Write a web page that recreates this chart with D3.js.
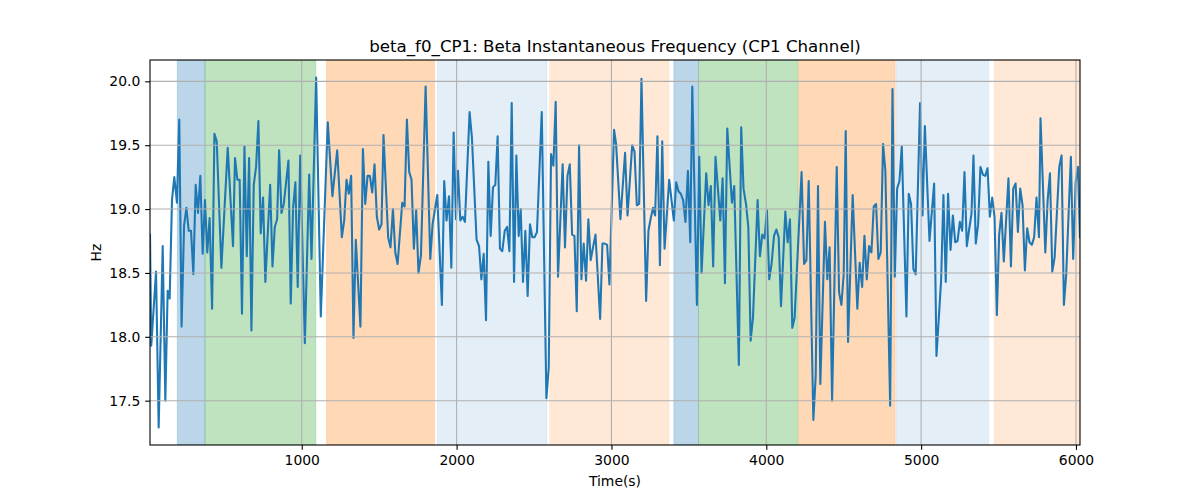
<!DOCTYPE html>
<html>
<head>
<meta charset="utf-8">
<script src="https://cdn.jsdelivr.net/npm/d3@7"></script>
<style>
  html, body { margin: 0; padding: 0; background: #fff; }
  svg text { font-family: "DejaVu Sans", sans-serif; fill: #000; }
</style>
</head>
<body>
<svg id="chart" width="1200" height="500"></svg>
<script>
// ---- data ----
const titleText = "beta_f0_CP1: Beta Instantaneous Frequency (CP1 Channel)";
const xLabelText = "Time(s)";
const yLabelText = "Hz";

const times = [
  20,28,59,76,102,119,134,147,162,177,194,209,224,240,255,270,285,300,315,330,
  345,360,375,390,405,421,436,451,481,522,556,569,584,599,614,630,645,660,675,690,
  705,720,735,750,765,796,811,826,841,854,869,884,914,929,944,959,974,990,1020,
  1048,1063,1093,1123,1168,1198,1229,1259,1274,1289,1304,1319,1334,1349,1379,1395,1410,1425,1440,1455,
  1470,1485,1500,1515,1528,1558,1573,1589,1604,1619,1649,1664,1679,1694,1709,1724,1739,1754,1770,1800,
  1830,1845,1875,1905,1920,1935,1951,1966,1981,1996,2009,
  2024,2039,2054,2084,2099,2129,2145,2160,2175,2190,2205,2220,2235,2250,2265,2280,2295,2311,2326,2341,
  2356,2371,2386,2401,2414,2429,2444,2459,2474,2489,2504,2519,2550,2580,2595,2610,2625,2640,2655,2685,
  2700,2716,2731,2746,2761,2776,2791,2806,2821,2836,2851,2866,2881,2897,2927,2942,2957,2972,2987,3017,
  3030,3058,3088,3104,3134,3149,3164,3179,3194,3224,3239,3254,3269,3282,3297,3313,3328,3343,3373,3403,
  3418,3433,3448,3463,3478,3494,3509,3522,3552,3567,3582,3612,3627,3642,3657,3672,3703,3718,3733,3748,
  3778,3793,3823,3838,3853,3869,3884,3899,3914,3944,3959,3974,3989,4004,4019,
  4034,4050,4065,4080,4095,4123,4138,4153,4168,4183,4228,4244,4259,4274,4304,4319,4334,4349,4379,4394,
  4409,4425,4455,4470,4485,4500,4513,4528,4558,4588,4603,4619,4634,4649,4664,4679,4694,4709,4724,4739,
  4754,4769,4800,4815,4830,4845,4860,4875,4905,4920,4935,4950,4965,4993,5009,5024,
  5054,5084,5099,5129,5144,5159,5174,5190,5205,5220,5235,5250,5265,5280,5295,5310,5325,5338,5353,5368,
  5383,5399,5414,5429,5444,5459,5474,5489,5504,5519,5534,5564,5580,5595,5610,5625,5640,5655,5670,5685,
  5700,5715,5730,5745,5761,5771,5802,5817,5832,5847,5862,5892,5907,5922,5937,5967,5982,5998,6013,6026
];

const hz = [
  18.80,17.93,18.51,17.29,18.71,17.50,18.36,18.30,19.07,19.25,19.05,19.70,18.08,18.87,19.01,18.83,18.83,18.49,19.19,18.97,
  19.26,18.65,19.07,18.66,18.93,18.22,19.59,19.53,18.54,19.48,18.71,19.40,19.23,19.23,18.18,19.49,18.63,19.40,18.05,19.19,
  19.33,19.69,18.81,19.09,18.43,19.19,18.55,18.86,18.92,19.46,18.97,19.04,19.38,18.26,19.01,19.21,18.39,19.42,17.95,
  19.27,18.61,20.03,18.16,19.68,19.10,19.46,18.78,18.91,19.23,19.12,19.26,17.99,18.76,18.08,19.47,19.04,19.26,19.26,19.13,
  19.35,18.94,18.84,18.88,19.58,18.78,18.70,19.00,18.66,18.57,19.05,19.02,19.70,19.29,19.23,18.69,18.99,18.50,18.64,19.96,
  18.61,18.88,19.11,18.25,19.22,18.91,19.10,18.54,19.60,18.92,19.30,
  18.91,18.94,18.90,19.76,19.56,18.76,18.71,18.45,18.65,18.13,19.37,18.79,19.17,19.19,19.57,18.69,18.67,18.83,18.86,18.67,
  19.83,18.43,19.42,18.79,19.00,18.43,18.83,18.32,18.88,18.78,18.78,18.82,19.76,17.52,17.76,19.43,19.34,19.84,18.47,19.35,
  18.70,19.26,19.35,18.80,18.79,18.20,19.50,18.45,18.73,18.44,18.92,18.60,18.70,18.80,18.14,18.73,18.73,18.72,18.41,19.62,
  19.51,18.92,19.44,18.95,19.50,19.45,19.03,19.04,20.02,18.28,18.83,18.93,19.01,18.95,19.57,18.56,19.53,18.69,19.23,18.91,
  19.21,19.14,19.12,19.07,18.90,19.30,18.74,19.96,18.25,19.41,18.50,19.28,19.03,19.18,18.55,19.41,18.91,19.24,18.42,19.63,
  19.05,19.18,17.78,19.64,19.16,19.04,18.86,17.97,18.15,19.07,18.63,18.80,18.77,18.99,18.45,
  18.57,18.79,18.84,18.78,18.24,18.98,18.74,18.92,18.07,18.15,19.29,18.57,18.60,19.22,17.35,17.69,19.18,17.63,18.90,18.45,
  18.70,17.50,19.33,18.35,18.25,18.49,19.61,17.96,19.11,18.22,18.58,18.39,18.79,18.45,18.71,18.66,19.02,19.04,18.61,18.66,
  19.51,19.30,17.46,19.94,18.47,19.16,19.22,19.49,18.16,19.12,19.04,18.53,18.49,19.83,18.95,19.65,
  18.75,19.20,17.85,18.44,19.11,18.43,19.12,18.68,18.95,18.74,18.75,18.90,18.83,19.29,18.71,18.84,18.96,19.42,18.73,18.88,
  19.33,19.27,19.26,19.32,18.94,19.09,18.94,18.17,18.80,18.97,18.59,19.24,18.55,19.16,19.20,18.82,19.16,19.03,18.52,18.85,
  18.74,18.72,18.78,19.09,18.78,19.71,18.66,19.07,19.28,18.51,18.62,19.33,19.42,18.25,18.49,19.41,18.61,19.21,19.33,18.78
];

// shaded phases
const spanStarts = [196, 375, 1160, 1875, 2601, 3403, 3562, 4209, 4838, 5472];
const spanEnds   = [375, 1091, 1858, 2584, 3371, 3562, 4205, 4832, 5437, 6030];
const spanKinds  = ["A", "B", "C", "D", "E", "A", "B", "C", "D", "E"];

const xTickValues = [1000, 2000, 3000, 4000, 5000, 6000];
const yTickValues = [17.5, 18.0, 18.5, 19.0, 19.5, 20.0];

// ---- styles ----
const kindStyle = {
  A: { color: "#1f77b4", opacity: 0.30 },
  B: { color: "#2ca02c", opacity: 0.30 },
  C: { color: "#ff7f0e", opacity: 0.30 },
  D: { color: "#1f77b4", opacity: 0.12 },
  E: { color: "#ff7f0e", opacity: 0.17 }
};

const W = 1200, H = 500;
const m = { left: 150, right: 1080, top: 60, bottom: 445 };

const svg = d3.select("#chart");

const data = times.map((t, i) => ({ t, v: hz[i] }));
const [tMin, tMax] = d3.extent(times);
const [vMin, vMax] = d3.extent(hz);
const vPad = (vMax - vMin) * 0.05;

const x = d3.scaleLinear().domain([tMin, tMax]).range([m.left, m.right]);
const y = d3.scaleLinear().domain([vMin - vPad, vMax + vPad]).range([m.bottom, m.top]);

svg.append("defs").append("clipPath").attr("id", "clip")
  .append("rect").attr("x", m.left).attr("y", m.top)
  .attr("width", m.right - m.left).attr("height", m.bottom - m.top);

const plot = svg.append("g").attr("clip-path", "url(#clip)");

// spans
const spans = spanStarts.map((s, i) => ({ s, e: spanEnds[i], k: spanKinds[i] }));
plot.selectAll("rect.span").data(spans).enter().append("rect")
  .attr("class", "span")
  .attr("x", d => x(d.s))
  .attr("width", d => x(d.e) - x(d.s))
  .attr("y", m.top)
  .attr("height", m.bottom - m.top)
  .attr("fill", d => kindStyle[d.k].color)
  .attr("fill-opacity", d => kindStyle[d.k].opacity)
  .attr("stroke", d => kindStyle[d.k].color)
  .attr("stroke-opacity", d => kindStyle[d.k].opacity * 0.6)
  .attr("stroke-width", 1);

// grid
const grid = svg.append("g");
grid.selectAll("line.gx").data(xTickValues).enter().append("line")
  .attr("x1", d => x(d)).attr("x2", d => x(d))
  .attr("y1", m.top).attr("y2", m.bottom)
  .attr("stroke", "#b0b0b0").attr("stroke-width", 1.1);
grid.selectAll("line.gy").data(yTickValues).enter().append("line")
  .attr("x1", m.left).attr("x2", m.right)
  .attr("y1", d => y(d)).attr("y2", d => y(d))
  .attr("stroke", "#b0b0b0").attr("stroke-width", 1.1);

// line
plot.append("path").datum(data)
  .attr("fill", "none")
  .attr("stroke", "#1f77b4")
  .attr("stroke-width", 2.08)
  .attr("stroke-linejoin", "round")
  .attr("stroke-linecap", "square")
  .attr("d", d3.line().x(d => x(d.t)).y(d => y(d.v)));

// axes
const xAxis = d3.axisBottom(x).tickValues(xTickValues).tickFormat(d3.format("d"))
  .tickSizeOuter(0).tickSizeInner(4.86).tickPadding(4.86);
const yAxis = d3.axisLeft(y).tickValues(yTickValues).tickFormat(d3.format(".1f"))
  .tickSizeOuter(0).tickSizeInner(4.86).tickPadding(4.86);

const gx = svg.append("g").attr("transform", `translate(0,${m.bottom})`).call(xAxis);
const gy = svg.append("g").attr("transform", `translate(${m.left},0)`).call(yAxis);
[gx, gy].forEach(g => {
  g.select(".domain").remove();
  g.selectAll(".tick line").attr("stroke", "#000").attr("stroke-width", 1.1);
  g.selectAll(".tick text").attr("font-family", "DejaVu Sans, sans-serif")
    .attr("font-size", "13.9px").attr("fill", "#000");
});

// spines
svg.append("rect").attr("x", m.left).attr("y", m.top)
  .attr("width", m.right - m.left).attr("height", m.bottom - m.top)
  .attr("fill", "none").attr("stroke", "#000").attr("stroke-width", 1.1);

// texts
svg.append("text").attr("x", (m.left + m.right) / 2).attr("y", 51.7)
  .attr("text-anchor", "middle").attr("font-size", "16.67px").text(titleText);
svg.append("text").attr("x", (m.left + m.right) / 2).attr("y", 486)
  .attr("text-anchor", "middle").attr("font-size", "13.9px").text(xLabelText);
svg.append("text").attr("transform", `translate(101,${(m.top + m.bottom) / 2}) rotate(-90)`)
  .attr("text-anchor", "middle").attr("font-size", "13.9px").text(yLabelText);
</script>
</body>
</html>
